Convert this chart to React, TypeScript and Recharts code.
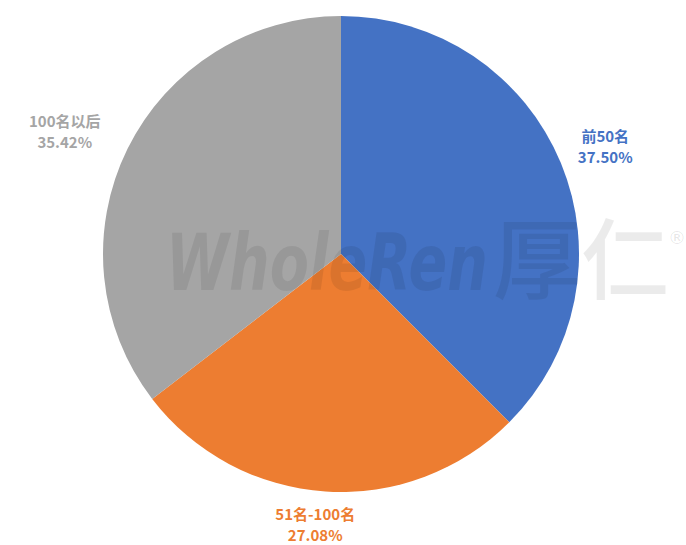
import { PieChart, Pie, Cell } from 'recharts'

const categories = ['前50名', '51名-100名', '100名以后']
const shares = [37.5, 27.08, 35.42]
const shareLabels = ['37.50%', '27.08%', '35.42%']
const colors = ['#4472C4', '#ED7D31', '#A5A5A5']

const data = categories.map((name, i) => ({ name, value: shares[i], pct: shareLabels[i] }))

// label block placement beyond the pie edge (radial gap, then a small vertical nudge)
const labelGaps = [48, 34, 70]
const labelNudgeY = [2, 0, 14]

const RAD = Math.PI / 180

function renderLabel(props: any) {
  const { cx, cy, midAngle, outerRadius, index } = props
  const cos = Math.cos(-midAngle * RAD)
  const sin = Math.sin(-midAngle * RAD)
  const r = outerRadius + labelGaps[index]
  const x = cx + r * cos - (index === 1 ? 8 : 0)
  const y = cy + r * sin + labelNudgeY[index]
  return (
    <text x={x} y={y} textAnchor="middle" fill={colors[index]} fontSize={15} fontWeight={700}
      fontFamily="'Noto Sans CJK SC', 'Noto Sans', sans-serif">
      <tspan x={x} dy={-5}>{data[index].name}</tspan>
      <tspan x={x} dy={21}>{data[index].pct}</tspan>
    </text>
  )
}

export default function App() {
  return (
    <div style={{ position: 'absolute', left: 0, top: 0, width: 686, height: 545, background: '#fff' }}>
      <PieChart width={686} height={545} margin={{ top: 0, right: 0, bottom: 0, left: 0 }}>
        <Pie
          data={data}
          dataKey="value"
          nameKey="name"
          cx={341}
          cy={254}
          outerRadius={238}
          startAngle={90}
          endAngle={-270}
          stroke="none"
          label={renderLabel}
          labelLine={false}
          isAnimationActive={false}
        >
          {data.map((d, i) => <Cell key={d.name} fill={colors[i]} />)}
        </Pie>
      </PieChart>
      {/* watermark */}
      <svg width={686} height={545} style={{ position: 'absolute', left: 0, top: 0, pointerEvents: 'none' }}>
        <text x={166} y={290} fontSize={78} fontWeight={900} fontStyle="italic" fill="#000" fillOpacity={0.08}
          fontFamily="'DejaVu Sans', sans-serif" textLength={322} lengthAdjust="spacingAndGlyphs">WholeRen</text>
        <text x={493} y={292} fontSize={88} fontWeight={500} fill="#000" fillOpacity={0.08}
          fontFamily="'Noto Sans CJK SC', sans-serif">厚仁</text>
        <text x={668} y={244} fontSize={18} fill="#000" fillOpacity={0.1}
          fontFamily="'DejaVu Sans', sans-serif">®</text>
      </svg>
    </div>
  )
}
